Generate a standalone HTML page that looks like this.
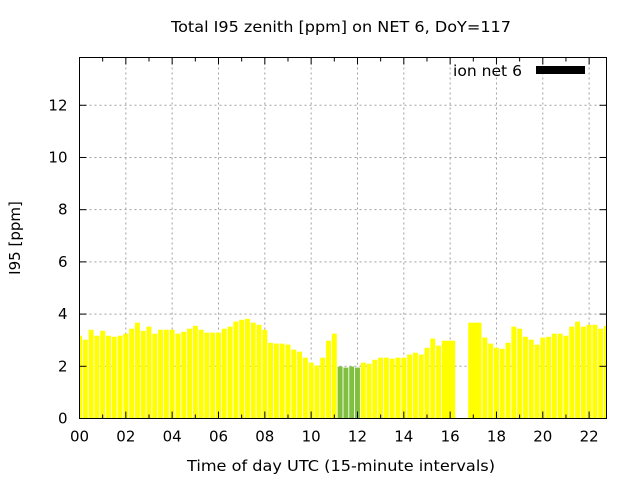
<!DOCTYPE html>
<html><head><meta charset="utf-8"><style>
body{margin:0;background:#fff;}
svg{display:block;font-family:"DejaVu Sans","Liberation Sans",sans-serif;}
</style></head><body>
<svg id="chart" width="640" height="480">
<text x="341" y="32" font-size="15" text-anchor="middle" textLength="340" lengthAdjust="spacingAndGlyphs">Total I95 zenith [ppm] on NET 6, DoY=117</text>
<text x="341" y="471" font-size="15" text-anchor="middle" textLength="308" lengthAdjust="spacingAndGlyphs">Time of day UTC (15-minute intervals)</text>
<text x="20" y="238" font-size="15" text-anchor="middle" transform="rotate(-90 20 238)">I95 [ppm]</text>
<g id="grid"></g><g id="bars"></g><g id="axes"></g>
<text x="522" y="76" font-size="15" text-anchor="end" textLength="69" lengthAdjust="spacingAndGlyphs">ion net 6</text>
<rect x="536" y="66" width="49" height="8" fill="#000"/>
</svg>
<script>
const values=[3.17,3.02,3.4,3.17,3.36,3.17,3.13,3.17,3.25,3.44,3.67,3.36,3.52,3.25,3.4,3.4,3.4,3.25,3.32,3.44,3.55,3.4,3.29,3.29,3.29,3.44,3.52,3.71,3.78,3.82,3.67,3.59,3.4,2.9,2.87,2.87,2.83,2.64,2.56,2.33,2.14,2.03,2.33,2.98,3.25,1.99,1.95,1.99,1.95,2.14,2.1,2.25,2.33,2.33,2.29,2.33,2.33,2.45,2.52,2.45,2.71,3.06,2.79,2.98,null,null,null,null,null,3.67,3.1,2.87,2.71,2.67,2.9,3.52,3.44,3.13,3.02,2.83,3.1,3.13,3.25,3.25,3.17,3.52,3.71,3.52,3.59,3.59,3.44,3.55];
const greenIdx=[45,46,47,48];
const xTicks=["00","02","04","06","08","10","12","14","16","18","20","22"];
const yTicks=[0,2,4,6,8,10,12];
const L=79.5,R=606.5,T=57.5,B=418.5,XMAX=22.75,YMAX=13.83,W=0.85,HMAX=0.47;
const xs=h=>L+h/XMAX*(R-L), ys=v=>B-v/YMAX*(B-T);
const NS="http://www.w3.org/2000/svg";
function mk(tag,a,parent){const e=document.createElementNS(NS,tag);for(const k in a)e.setAttribute(k,a[k]);document.getElementById(parent).appendChild(e);return e;}
yTicks.forEach(v=>{const y=ys(v);
 if(v>0){const g=mk('line',{x1:L,x2:R,y1:y,y2:y,stroke:'#a0a0a0','stroke-dasharray':'2,3'},'grid');
 
 }
 mk('line',{x1:L,x2:L+7,y1:y,y2:y,stroke:'#000'},'axes');
 mk('line',{x1:R,x2:R-7,y1:y,y2:y,stroke:'#000'},'axes');
 const t=mk('text',{x:L-12,y:y+5,'font-size':15,'text-anchor':'end'},'axes');t.textContent=v;
 
 });
xTicks.forEach((s,i)=>{const x=xs(i*2);
 if(i>0){const g=mk('line',{x1:x,x2:x,y1:T,y2:B,stroke:'#a0a0a0','stroke-dasharray':'2,3'},'grid');
 
 }
 mk('line',{x1:x,x2:x,y1:B,y2:B-7,stroke:'#000'},'axes');
 mk('line',{x1:x,x2:x,y1:T,y2:T+7,stroke:'#000'},'axes');
 const t=mk('text',{x:x,y:B+23,'font-size':15,'text-anchor':'middle'},'axes');t.textContent=s;
 
 });
for(let h=1;h<XMAX;h+=2){const x=xs(h);
 mk('line',{x1:x,x2:x,y1:B,y2:B-4,stroke:'#000'},'axes');
 mk('line',{x1:x,x2:x,y1:T,y2:T+4,stroke:'#000'},'axes');}
const present=[];values.forEach((v,i)=>{if(v!=null)present.push(i);});
present.forEach((i,k)=>{const v=values[i],t=i*0.25;
 const tp=k>0?present[k-1]*0.25:null, tn=k<present.length-1?present[k+1]*0.25:null;
 let dr=tn!=null?W*(tn-t)/2:W*(t-tp)/2, dl=tp!=null?W*(t-tp)/2:dr;
 dr=Math.min(dr,HMAX); dl=Math.min(dl,HMAX);
 let x0=Math.max(L,xs(t-dl)),x1=Math.min(R,xs(t+dr));
 const b=mk('rect',{x:x0,y:ys(v),width:x1-x0,height:B-ys(v),fill:greenIdx.includes(i)?'#80c040':'#ffff00'},'bars');
 
 });
const f=mk('rect',{x:L,y:T,width:R-L,height:B-T,fill:'none',stroke:'#000','stroke-width':1},'axes');


</script>
</body></html>
